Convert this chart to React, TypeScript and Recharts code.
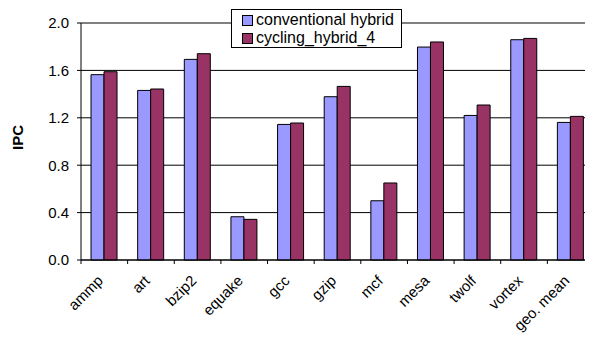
import React from 'react';
import {
  BarChart,
  Bar,
  XAxis,
  YAxis,
  CartesianGrid,
  ReferenceLine,
  Label,
} from 'recharts';

const benchmarks = ['ammp', 'art', 'bzip2', 'equake', 'gcc', 'gzip', 'mcf', 'mesa', 'twolf', 'vortex', 'geo. mean'];
const conventionalHybrid = [1.564, 1.431, 1.693, 0.365, 1.144, 1.378, 0.5, 1.797, 1.22, 1.859, 1.161];
const cyclingHybrid4 = [1.589, 1.443, 1.741, 0.343, 1.156, 1.465, 0.65, 1.84, 1.308, 1.87, 1.212];
const yTicks = [0, 0.4, 0.8, 1.2, 1.6, 2.0];

const series = [
  { key: 'conventional', label: 'conventional hybrid', color: '#9999ff' },
  { key: 'cycling', label: 'cycling_hybrid_4', color: '#993366' },
];

const data = benchmarks.map((name, i) => ({
  name,
  conventional: conventionalHybrid[i],
  cycling: cyclingHybrid4[i],
}));

const FONT = '"Liberation Sans", Arial, sans-serif';
const WIDTH = 600;
const HEIGHT = 339;
const MARGIN = { top: 23, right: 6, left: 0, bottom: 0 };
const X_AXIS_HEIGHT = 79;
const Y_AXIS_WIDTH = 81;
const BAND = (WIDTH - MARGIN.left - MARGIN.right - Y_AXIS_WIDTH) / benchmarks.length;

// category labels tilted 45°, with the tick mark on the left edge of each band
const XTick = (props: any) => {
  const { x, y, payload } = props;
  const axisY = y - 8;
  const left = x - BAND / 2;
  const tx = x - 4;
  const ty = axisY + 18;
  return (
    <g>
      <line x1={left} y1={axisY} x2={left} y2={axisY + 4} stroke="#000" />
      <text
        x={tx}
        y={ty}
        transform={`rotate(-45, ${tx}, ${ty})`}
        textAnchor="end"
        dy="0.35em"
        fontSize={15}
        fontFamily={FONT}
        fill="#000"
      >
        {payload.value}
      </text>
    </g>
  );
};

const LegendBox = () => (
  <div
    style={{
      position: 'absolute',
      left: 231,
      top: 9,
      width: 171,
      height: 39,
      border: '1px solid #000',
      background: '#fff',
      fontFamily: FONT,
      fontSize: 16,
      lineHeight: '18px',
      padding: '1px 0 0 10px',
      boxSizing: 'border-box',
    }}
  >
    {series.map((item) => (
      <div key={item.key} style={{ display: 'flex', alignItems: 'center', whiteSpace: 'nowrap' }}>
        <span
          style={{
            display: 'inline-block',
            width: 9,
            height: 9,
            background: item.color,
            border: '1px solid #000',
            marginRight: 3,
          }}
        />
        {item.label}
      </div>
    ))}
  </div>
);

export default function App() {
  return (
    <div style={{ position: 'relative', margin: '-8px 0 0 -8px', background: '#fff', width: WIDTH, height: HEIGHT }}>
      <BarChart
        width={WIDTH}
        height={HEIGHT}
        data={data}
        margin={MARGIN}
        barCategoryGap="21.5%"
        barGap={0}
      >
        <CartesianGrid vertical={false} stroke="#000" strokeOpacity={1} />
        <XAxis
          dataKey="name"
          axisLine={{ stroke: '#000' }}
          tickLine={false}
          tick={<XTick />}
          interval={0}
          height={X_AXIS_HEIGHT}
        />
        <YAxis
          domain={[0, 2]}
          ticks={yTicks}
          width={Y_AXIS_WIDTH}
          tickFormatter={(v: number) => v.toFixed(1)}
          axisLine={{ stroke: '#000' }}
          tickLine={{ stroke: '#000' }}
          tickSize={4}
          tickMargin={8}
          tick={{ fill: '#000', fontSize: 15, fontFamily: FONT }}
        >
          <Label
            content={({ viewBox }: any) => {
              const cx = viewBox.x + 23;
              const cy = viewBox.y + viewBox.height / 2 - 4;
              return (
                <text
                  x={cx}
                  y={cy}
                  transform={`rotate(-90, ${cx}, ${cy})`}
                  textAnchor="middle"
                  fontFamily={FONT}
                  fontSize={15}
                  fontWeight="bold"
                  fill="#000"
                >
                  IPC
                </text>
              );
            }}
          />
        </YAxis>
        <ReferenceLine y={2} stroke="#808080" />
        {series.map((s) => (
          <Bar
            key={s.key}
            dataKey={s.key}
            name={s.label}
            fill={s.color}
            stroke="#000"
            strokeWidth={1}
            isAnimationActive={false}
          />
        ))}
      </BarChart>
      <LegendBox />
    </div>
  );
}
